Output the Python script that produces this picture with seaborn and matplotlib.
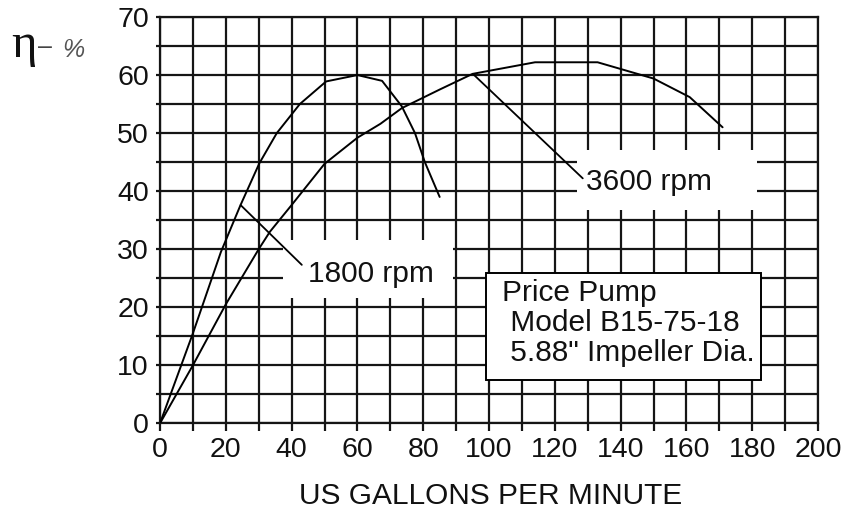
import matplotlib
matplotlib.use("Agg")
import matplotlib.pyplot as plt
import seaborn as sns
import pandas as pd
from matplotlib.patches import Rectangle

# ---- data ----
gpm_1800 = [0, 10, 18.5, 24.4, 30.2, 35.5, 42.5, 50.5, 60, 67.5, 73.5, 77.5, 80.5, 85]
eff_1800 = [0, 15.5, 29.5, 37.5, 44.8, 50, 55, 58.9, 60, 59, 54.6, 50, 45, 39]

gpm_3600 = [0, 10, 20, 30, 33.4, 40, 50, 60, 67, 73.5, 85, 95, 114, 133, 150, 161, 171]
eff_3600 = [0, 10, 20.5, 30, 33, 37.6, 44.7, 49.2, 51.6, 54.3, 57.5, 60.2, 62.2, 62.2, 59.4, 56.2, 51]

x_ticks = [0, 20, 40, 60, 80, 100, 120, 140, 160, 180, 200]
y_ticks = [0, 10, 20, 30, 40, 50, 60, 70]

label_1800 = "1800 rpm"
label_3600 = "3600 rpm"
box_lines = ["Price Pump", " Model B15-75-18", " 5.88\" Impeller Dia."]
x_label = "US GALLONS PER MINUTE"

df = pd.concat([
    pd.DataFrame({"gpm": gpm_1800, "eff": eff_1800, "speed": label_1800}),
    pd.DataFrame({"gpm": gpm_3600, "eff": eff_3600, "speed": label_3600}),
])

sns.set_theme(style="white")
plt.rcParams["font.family"] = ["Liberation Sans", "DejaVu Sans"]

fig = plt.figure(figsize=(8.44, 5.18), dpi=100)
ax = fig.add_axes([160 / 844, (518 - 423.3) / 518, 658 / 844, 406.3 / 518])

grid_c = "#151515"
for xv in range(0, 201, 10):
    ax.axvline(xv, color=grid_c, lw=1.6, zorder=1)
for yv in range(0, 71, 5):
    ax.axhline(yv, color=grid_c, lw=1.6, zorder=1)

sns.lineplot(data=df, x="gpm", y="eff", units="speed", estimator=None, sort=False,
             color="black", lw=1.4, ax=ax, zorder=5, legend=False)

# white label patches (hide grid under labels)
ax.add_patch(Rectangle((37.5, 21.6), 51.5, 10.0, facecolor="white", edgecolor="none", zorder=3))
ax.add_patch(Rectangle((126.6, 36.8), 55, 10.3, facecolor="white", edgecolor="none", zorder=3))
ax.add_patch(Rectangle((99.1, 7.5), 83.6, 18.4, facecolor="white", edgecolor="black", lw=1.4, zorder=3))

# leaders
ax.plot([24.5, 43.1], [37.6, 27.3], color="black", lw=1.3, zorder=6)
ax.plot([95.1, 128.5], [60.2, 42.2], color="black", lw=1.3, zorder=6)

ax.text(45, 25.8, label_1800, fontsize=21.5, va="center", ha="left", zorder=7, color="#111")
ax.text(129.5, 41.6, label_3600, fontsize=21.5, va="center", ha="left", zorder=7, color="#111")
ax.text(103.8, 22.5, box_lines[0], fontsize=21.5, va="center", ha="left", zorder=7, color="#111")
ax.text(103.8, 17.2, box_lines[1], fontsize=21.5, va="center", ha="left", zorder=7, color="#111")
ax.text(103.8, 12.1, box_lines[2], fontsize=21.5, va="center", ha="left", zorder=7, color="#111")

ax.set_xlim(0, 200)
ax.set_ylim(0, 70)
ax.set_xticks(x_ticks)
ax.set_xticks(range(0, 201, 10), minor=True)
ax.set_yticks(y_ticks)
ax.set_yticks(range(0, 71, 5), minor=True)
ax.tick_params(axis="x", which="both", direction="out", length=6, width=1.6, color=grid_c,
               labelsize=20.5, pad=4, bottom=True)
ax.tick_params(axis="y", which="both", direction="out", length=3, width=1.6, color=grid_c,
               labelsize=20.5, pad=5, left=True)
for lbl in ax.get_xticklabels() + ax.get_yticklabels():
    lbl.set_color("#111")
for sp in ax.spines.values():
    sp.set_color(grid_c)
    sp.set_linewidth(1.6)

ax.set_xlabel(x_label, fontsize=21.5, color="#111")
ax.xaxis.set_label_coords(0.503, -0.145)
ax.set_ylabel("")

fig.text(11 / 844, 1 - 57 / 518, "η", family=["Liberation Serif", "DejaVu Serif"], fontsize=35,
         va="baseline", ha="left", color="#111")
fig.text(38 / 844, 1 - 54 / 518, "–", family=["Liberation Sans"], fontsize=18,
         va="baseline", ha="left", color="#444")
fig.text(62 / 844, 1 - 57 / 518, "%", family=["Liberation Sans"], style="italic", fontsize=18,
         va="baseline", ha="left", color="#555")

fig.savefig("out.png", dpi=100, facecolor="white")
